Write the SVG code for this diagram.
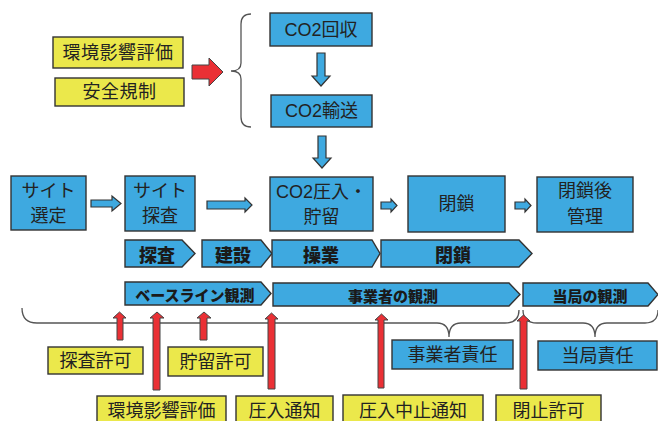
<svg xmlns="http://www.w3.org/2000/svg" width="658" height="421" viewBox="0 0 658 421">
<style>
.bl{fill:#3ea9e0;stroke:#333;stroke-width:1.4}
.yl{fill:#ebe84b;stroke:#333;stroke-width:1.4}
.rd{fill:#ea3035;stroke:#444;stroke-width:1}
.ar{fill:#3ea9e0;stroke:#333;stroke-width:1.2}
.br{fill:none;stroke:#555;stroke-width:1.3}
.t{font-family:"Liberation Sans","Noto Sans CJK JP",sans-serif;font-size:18px;fill:#222;text-anchor:middle;dominant-baseline:central}
.ty{letter-spacing:0.5px}
.b{font-family:"Noto Sans CJK JP",sans-serif;font-weight:900;fill:#1a1a1a;text-anchor:middle;dominant-baseline:central}
.b1{font-size:18px}
.b2{font-size:15px}
</style>
<rect width="658" height="421" fill="#fff"/>

<g id="connectors">
  <polygon class="rd" points="192,65 209,65 209,58 223,72 209,86 209,79 192,79"/>
  <path class="br" d="M251,14 Q241,14 241,24 L241,63 Q241,71 231,71 Q241,71 241,79 L241,117 Q241,127 251,127"/>
  <polygon class="ar" points="317,53 325,53 325,76 330,76 321,86 312,76 317,76"/>
  <polygon class="ar" points="318,136 326,136 326,158 331,158 322,168 313,158 318,158"/>
  <polygon class="ar" points="91,200 112,200 112,196 121,203.5 112,211 112,207 91,207"/>
  <polygon class="ar" points="207,201 245,201 245,198 252,205 245,212 245,209 207,209"/>
  <polygon class="ar" points="381,202 391,202 391,199 397,205.5 391,212 391,209 381,209"/>
  <polygon class="ar" points="515,202 525,202 525,199 531,205.5 525,212 525,209 515,209"/>
  <path class="br" d="M22,308 Q22,323 37,323 L437,323 Q449,323 449,337 Q449,323 461,323 L505,323 Q519,323 519,310"/>
  <path class="br" d="M523,310 Q523,323 537,323 L583,323 Q595,323 595,337 Q595,323 607,323 L645,323 Q658,323 658,310"/>
  <polygon class="rd" points="117,340 117,318 113,318 119.5,312 126,318 123,318 123,340"/>
  <polygon class="rd" points="153,390 153,318 150,318 157,312 164,318 160,318 160,390"/>
  <polygon class="rd" points="200,340 200,318 197,318 204,312 211,318 207,318 207,340"/>
  <polygon class="rd" points="268,389 268,319 265,319 271.5,313 278,319 275,319 275,389"/>
  <polygon class="rd" points="378,388 378,320 375,320 381.5,314 388,320 384,320 384,388"/>
  <polygon class="rd" points="520,389 520,321 517,321 523.5,315 530,321 527,321 527,389"/>
</g>

<g id="n-env1"><rect class="yl" x="53" y="37" width="130" height="31"/><text class="t ty" x="118" y="52.5">環境影響評価</text></g>
<g id="n-safety"><rect class="yl" x="55" y="78" width="129" height="28"/><text class="t ty" x="119.5" y="92">安全規制</text></g>
<g id="n-capture"><rect class="bl" x="270" y="13" width="102" height="33"/><text class="t" x="321" y="29.5">CO2回収</text></g>
<g id="n-transport"><rect class="bl" x="271" y="95" width="101" height="32"/><text class="t" x="321.5" y="111">CO2輸送</text></g>
<g id="n-select"><rect class="bl" x="11" y="176" width="75" height="54"/><text class="t" x="48.5" y="191">サイト</text><text class="t" x="48.5" y="216">選定</text></g>
<g id="n-survey"><rect class="bl" x="125" y="176" width="70" height="55"/><text class="t" x="160" y="191">サイト</text><text class="t" x="160" y="216">探査</text></g>
<g id="n-inject"><rect class="bl" x="270" y="177" width="103" height="54"/><text class="t" x="321.5" y="192">CO2圧入・</text><text class="t" x="321.5" y="217">貯留</text></g>
<g id="n-close"><rect class="bl" x="408" y="176" width="97" height="56"/><text class="t" x="456.5" y="204">閉鎖</text></g>
<g id="n-post"><rect class="bl" x="537" y="177" width="96" height="55"/><text class="t" x="585" y="191">閉鎖後</text><text class="t" x="585" y="217">管理</text></g>

<g id="p-survey"><polygon class="bl" points="125,240 182,240 195,253.5 182,267 125,267"/><text class="b b1" x="157" y="254">探査</text></g>
<g id="p-build"><polygon class="bl" points="202,240 261,240 272,253.5 261,267 202,267"/><text class="b b1" x="233" y="254">建設</text></g>
<g id="p-operate"><polygon class="bl" points="272,240 372,240 380,253.5 372,267 272,267"/><text class="b b1" x="321" y="254">操業</text></g>
<g id="p-close"><polygon class="bl" points="381,240 519,240 532,253.5 519,267 381,267"/><text class="b b1" x="453" y="254">閉鎖</text></g>

<g id="m-base"><polygon class="bl" points="125,282 261,282 271,293.5 261,305 125,305"/><text class="b b2" x="195" y="294">ベースライン観測</text></g>
<g id="m-operator"><polygon class="bl" points="273,283 509,283 520,294.5 509,306 273,306"/><text class="b b2" x="393" y="295">事業者の観測</text></g>
<g id="m-authority"><polygon class="bl" points="523,283 648,283 658,294.5 648,306 523,306"/><text class="b b2" x="590" y="295">当局の観測</text></g>

<g id="n-survey-permit"><rect class="yl" x="48" y="347" width="95" height="27"/><text class="t" x="95.5" y="360.5">探査許可</text></g>
<g id="n-storage-permit"><rect class="yl" x="168" y="347" width="95" height="29"/><text class="t" x="215.5" y="361.5">貯留許可</text></g>
<g id="n-op-resp"><rect class="bl" x="392" y="340" width="121" height="29"/><text class="t" x="452.5" y="354.5">事業者責任</text></g>
<g id="n-auth-resp"><rect class="bl" x="538" y="341" width="119" height="29"/><text class="t" x="597.5" y="355.5">当局責任</text></g>
<g id="n-env2"><rect class="yl" x="97" y="396" width="129" height="30"/><text class="t" x="161.5" y="411">環境影響評価</text></g>
<g id="n-inj-notice"><rect class="yl" x="236" y="396" width="97" height="30"/><text class="t" x="284.5" y="411">圧入通知</text></g>
<g id="n-stop-notice"><rect class="yl" x="343" y="395" width="140" height="31"/><text class="t" x="413" y="411">圧入中止通知</text></g>
<g id="n-close-permit"><rect class="yl" x="496" y="395" width="105" height="31"/><text class="t" x="548.5" y="411">閉止許可</text></g>
</svg>
